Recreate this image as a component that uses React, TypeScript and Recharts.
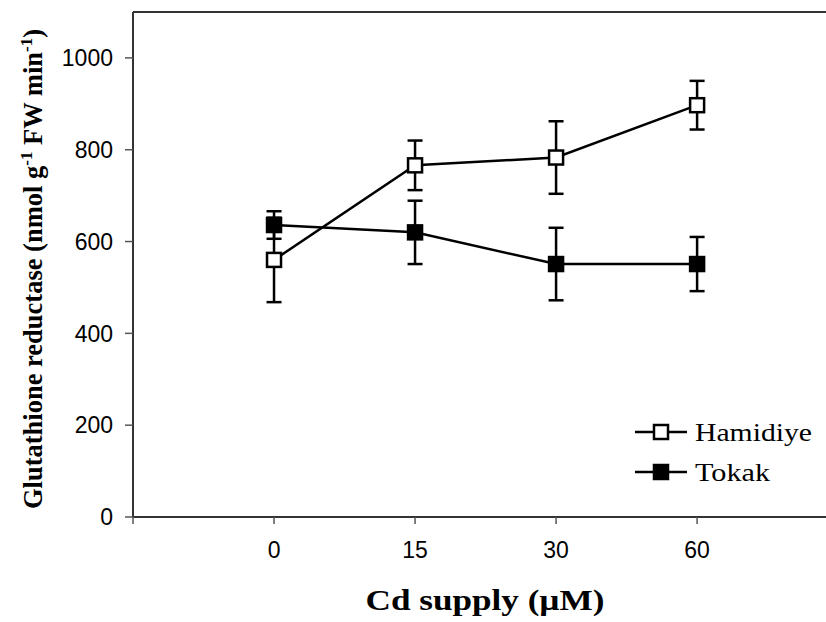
import React from 'react';
import { ComposedChart, Line, XAxis, YAxis, ErrorBar, ReferenceLine, Customized } from 'recharts';

const doses = ['0', '15', '30', '60'];
const hamidiye = [560, 766, 783, 897];
const hamidiyeErr = [92, 54, 79, 53];
const tokak = [636, 620, 551, 551];
const tokakErr = [30, 69, 79, 59];
const yTicks = [0, 200, 400, 600, 800, 1000];
const xTicks = [-1, 0, 1, 2, 3];

const data = doses.map((d, i) => ({
  idx: i,
  dose: d,
  hamidiye: hamidiye[i],
  hErr: hamidiyeErr[i],
  tokak: tokak[i],
  tErr: tokakErr[i],
}));

const SERIF = '"Liberation Serif", "Times New Roman", serif';
const SANS = '"Liberation Sans", Arial, sans-serif';

const square = (fill: string) => (props: any) => {
  const { cx, cy, index } = props;
  if (cx == null || cy == null) return <g key={`e-${fill}-${index}`} />;
  return (
    <rect
      key={`${fill}-${index}`}
      x={cx - 7}
      y={cy - 7}
      width={14}
      height={14}
      fill={fill}
      stroke="#000"
      strokeWidth={2.5}
    />
  );
};

const Overlay = () => (
  <g>
    {/* Y axis title */}
    <text
      x={42}
      y={269}
      transform="rotate(-90 42 269)"
      textAnchor="middle"
      fontFamily={SERIF}
      fontWeight="bold"
      fontSize={26.5}
      fill="#000"
    >
      Glutathione reductase (nmol g
      <tspan fontSize={17} dy={-10}>-1</tspan>
      <tspan dy={10}> FW min</tspan>
      <tspan fontSize={17} dy={-10}>-1</tspan>
      <tspan dy={10}>)</tspan>
    </text>
    {/* X axis title */}
    <text
      x={485}
      y={610}
      textAnchor="middle"
      fontFamily={SERIF}
      fontWeight="bold"
      fontSize={30}
      textLength={239}
      lengthAdjust="spacingAndGlyphs"
      fill="#000"
    >
      Cd supply (µM)
    </text>
    {/* Legend */}
    <line x1={635} y1={432} x2={687} y2={432} stroke="#000" strokeWidth={2.5} />
    <rect x={654} y={425} width={14} height={14} fill="#fff" stroke="#000" strokeWidth={2.5} />
    <text x={695} y={441} fontFamily={SERIF} fontSize={26} textLength={117} lengthAdjust="spacingAndGlyphs" fill="#000">
      Hamidiye
    </text>
    <line x1={635} y1={472} x2={687} y2={472} stroke="#000" strokeWidth={2.5} />
    <rect x={654} y={465} width={14} height={14} fill="#000" stroke="#000" strokeWidth={2.5} />
    <text x={695} y={481} fontFamily={SERIF} fontSize={26} textLength={75} lengthAdjust="spacingAndGlyphs" fill="#000">
      Tokak
    </text>
  </g>
);

export default function App() {
  return (
    <div style={{ width: 826, height: 622, overflow: 'hidden', background: '#fff' }}>
      <style>{'body{margin:0}'}</style>
      <ComposedChart
        width={826}
        height={622}
        data={data}
        margin={{ top: 12, right: 0, left: 0, bottom: 0 }}
      >
        <XAxis
          type="number"
          dataKey="idx"
          domain={[-1, 3.914]}
          allowDataOverflow
          ticks={xTicks}
          interval={0}
          tickFormatter={(v: number) => (v >= 0 ? doses[v] : '')}
          height={105}
          tickSize={7}
          tickMargin={18}
          axisLine={{ stroke: '#333', strokeWidth: 2 }}
          tickLine={{ stroke: '#555', strokeWidth: 1.5 }}
          tick={{ fill: '#000', fontFamily: SANS, fontSize: 23 }}
        />
        <YAxis
          type="number"
          domain={[0, 1100]}
          ticks={yTicks}
          interval={0}
          width={133}
          tickSize={8}
          tickMargin={12}
          axisLine={{ stroke: '#333', strokeWidth: 2 }}
          tickLine={{ stroke: '#555', strokeWidth: 1.5 }}
          tick={{ fill: '#000', fontFamily: SANS, fontSize: 23 }}
        />
        <ReferenceLine y={1100} stroke="#333" strokeWidth={2} />
        <Line
          dataKey="hamidiye"
          stroke="#000"
          strokeWidth={2.5}
          isAnimationActive={false}
          dot={square('#fff')}
          activeDot={false}
        >
          <ErrorBar dataKey="hErr" width={7.5} stroke="#000" strokeWidth={2.5} direction="y" isAnimationActive={false} />
        </Line>
        <Line
          dataKey="tokak"
          stroke="#000"
          strokeWidth={2.5}
          isAnimationActive={false}
          dot={square('#000')}
          activeDot={false}
        >
          <ErrorBar dataKey="tErr" width={7.5} stroke="#000" strokeWidth={2.5} direction="y" isAnimationActive={false} />
        </Line>
        <Customized component={Overlay} />
      </ComposedChart>
    </div>
  );
}
